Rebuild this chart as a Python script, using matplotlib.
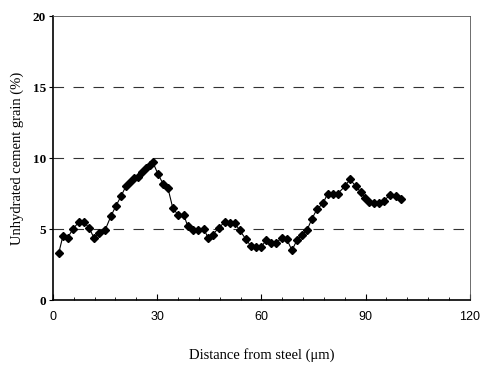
import numpy as np
import matplotlib
matplotlib.use("Agg")
import matplotlib.pyplot as plt
from matplotlib.ticker import MultipleLocator

# distance from steel (um) and unhydrated cement grain (%)
distance = [1.7, 2.9, 4.3, 5.8, 7.5, 8.9, 10.4, 11.8, 13.2, 15.0,
            16.7, 18.1, 19.6, 21.0, 22.2, 23.3, 24.5, 25.6, 26.8, 27.9,
            28.8, 30.2, 31.7, 33.1, 34.5, 36.0, 37.7, 38.8, 40.3, 41.7,
            43.5, 44.6, 46.0, 47.8, 49.5, 50.9, 52.4, 53.8, 55.5, 57.0,
            58.4, 59.9, 61.3, 62.7, 64.2, 65.9, 67.3, 68.8, 70.2, 71.7,
            73.1, 74.5, 76.0, 77.7, 79.1, 80.6, 82.0, 84.0, 85.5, 87.2,
            88.6, 89.8, 90.9, 92.4, 93.8, 95.3, 97.0, 98.7, 100.1]
grain = [3.3, 4.5, 4.4, 5.0, 5.5, 5.5, 5.1, 4.4, 4.7, 4.9,
         5.9, 6.6, 7.3, 8.0, 8.3, 8.6, 8.7, 9.0, 9.3, 9.5,
         9.7, 8.9, 8.2, 7.9, 6.5, 6.0, 6.0, 5.2, 4.9, 4.9,
         5.0, 4.4, 4.6, 5.1, 5.5, 5.4, 5.4, 4.9, 4.3, 3.8,
         3.7, 3.7, 4.2, 4.0, 4.0, 4.4, 4.3, 3.5, 4.2, 4.6,
         4.9, 5.7, 6.4, 6.8, 7.5, 7.5, 7.5, 8.0, 8.5, 8.0,
         7.6, 7.2, 6.9, 6.8, 6.8, 7.0, 7.4, 7.3, 7.1]

x_ticks = [0, 30, 60, 90, 120]
y_ticks = [0, 5, 10, 15, 20]
grid_levels = [5, 10, 15]

fig = plt.figure(figsize=(4.8, 3.65), dpi=100)
ax = fig.add_axes([0.110, 0.178, 0.869, 0.778])

for lvl in grid_levels:
    ax.axhline(lvl, color="#333333", lw=0.8, dashes=(9.5, 8.5), zorder=1)

ax.plot(distance, grain, color="black", lw=0.8, marker="D", markersize=4.5,
        markerfacecolor="black", markeredgecolor="black", zorder=3)

ax.set_xlim(0, 120)
ax.set_ylim(0, 20)
ax.set_xticks(x_ticks)
ax.set_yticks(y_ticks)
ax.xaxis.set_minor_locator(MultipleLocator(6))

for s in ["top", "right"]:
    ax.spines[s].set_linewidth(0.6)
    ax.spines[s].set_color("#555555")
ax.spines["left"].set_linewidth(1.2)
ax.spines["bottom"].set_linewidth(1.2)

ax.tick_params(axis="x", which="major", direction="in", length=4, width=0.8,
               labelsize=9, pad=8)
ax.tick_params(axis="x", which="minor", direction="in", length=2.5, width=0.6)
ax.tick_params(axis="y", which="major", direction="out", length=3, width=0.8,
               labelsize=9.5, pad=2)
for lab in ax.get_xticklabels():
    lab.set_fontfamily("Liberation Sans")
for lab in ax.get_yticklabels():
    lab.set_fontfamily("Liberation Serif")
    lab.set_fontweight("bold")

ax.set_xlabel("Distance from steel (\u03bcm)", family="Liberation Serif",
              fontsize=10.5, labelpad=18)
ax.set_ylabel("Unhydrated cement grain (%)", family="Liberation Serif",
              fontsize=10.5, labelpad=6)

fig.savefig("out.png", dpi=100)
